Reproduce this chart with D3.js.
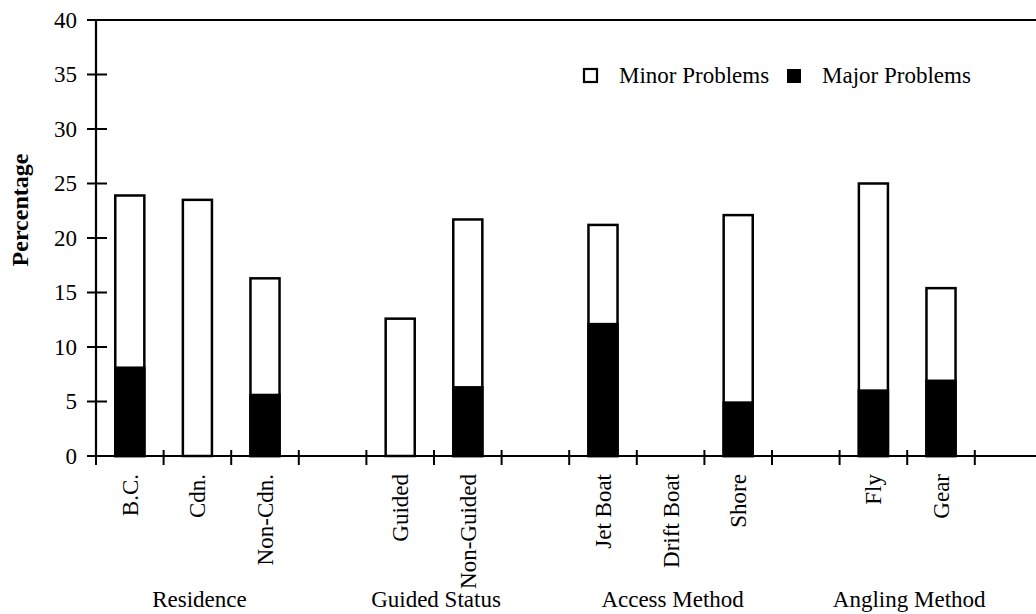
<!DOCTYPE html>
<html>
<head>
<meta charset="utf-8">
<script src="https://cdn.jsdelivr.net/npm/d3@7"></script>
<style>
  html, body { margin: 0; padding: 0; background: #fff; }
  svg { display: block; }
  text { font-family: "Liberation Serif", "Times New Roman", serif; fill: #000; }
</style>
</head>
<body>
<div id="chart"></div>
<script>
// ---- data ----
const groups = ["Residence", "Guided Status", "Access Method", "Angling Method"];
const categories = ["B.C.", "Cdn.", "Non-Cdn.", "Guided", "Non-Guided", "Jet Boat", "Drift Boat", "Shore", "Fly", "Gear"];
const categoryGroup = [0, 0, 0, 1, 1, 2, 2, 2, 3, 3];
const majorValues = [8.1, 0, 5.6, 0, 6.3, 12.1, 0, 4.9, 6.0, 6.9];
const minorValues = [15.8, 23.5, 10.7, 12.6, 15.4, 9.1, 0, 17.2, 19.0, 8.5];
const yTicks = [0, 5, 10, 15, 20, 25, 30, 35, 40];
const seriesNames = ["Minor Problems", "Major Problems"];

// ---- layout ----
const W = 1036, H = 614;
const svg = d3.select("#chart").append("svg").attr("width", W).attr("height", H);

// build slots: categories with one blank slot after each group
const slots = [];
groups.forEach((g, gi) => {
  categories.forEach((c, ci) => { if (categoryGroup[ci] === gi) slots.push({ key: c, cat: ci, group: gi }); });
  slots.push({ key: "gap" + gi, cat: -1, group: gi });
});

const x0 = 96, slotW = 67.6;
const x = d3.scaleBand().domain(slots.map(s => s.key)).range([x0, x0 + slotW * slots.length]).padding(0);
const y = d3.scaleLinear().domain([0, 40]).range([456, 20]);
const barW = x.bandwidth() * 0.43;

// top border line
svg.append("line").attr("x1", 87).attr("x2", W).attr("y1", y(40)).attr("y2", y(40))
  .attr("stroke", "#000").attr("stroke-width", 2);

// y axis
svg.append("line").attr("x1", x0).attr("x2", x0).attr("y1", y(0)).attr("y2", y(40))
  .attr("stroke", "#000").attr("stroke-width", 2.2);
const yt = svg.append("g");
yTicks.forEach(t => {
  yt.append("line").attr("x1", x0 - 9).attr("x2", x0 + 11).attr("y1", y(t)).attr("y2", y(t))
    .attr("stroke", "#000").attr("stroke-width", 2);
  yt.append("text").attr("x", 77).attr("y", y(t)).attr("dy", "0.33em")
    .attr("text-anchor", "end").attr("font-size", 23).text(t);
});

// y title
svg.append("text").attr("transform", `translate(28,210) rotate(-90)`)
  .attr("text-anchor", "middle").attr("font-size", 24).attr("font-weight", "bold").text("Percentage");

// bars
const bars = svg.append("g");
slots.filter(s => s.cat >= 0).forEach(s => {
  const i = s.cat;
  const total = majorValues[i] + minorValues[i];
  if (total <= 0) return;
  const cx = x(s.key) + x.bandwidth() / 2;
  bars.append("rect").attr("x", cx - barW / 2).attr("width", barW)
    .attr("y", y(total)).attr("height", y(0) - y(total))
    .attr("fill", "#fff").attr("stroke", "#000").attr("stroke-width", 2.5);
  if (majorValues[i] > 0) {
    bars.append("rect").attr("x", cx - barW / 2).attr("width", barW)
      .attr("y", y(majorValues[i])).attr("height", y(0) - y(majorValues[i]))
      .attr("fill", "#000").attr("stroke", "#000").attr("stroke-width", 2.5);
  }
});

// x axis line
svg.append("line").attr("x1", 87).attr("x2", W).attr("y1", y(0)).attr("y2", y(0))
  .attr("stroke", "#000").attr("stroke-width", 2.2);
// x ticks at slot boundaries
const bounds = slots.map(s => x(s.key)).concat([x.range()[1]]);
bounds.forEach(b => {
  svg.append("line").attr("x1", b).attr("x2", b).attr("y1", y(0) - 6).attr("y2", y(0) + 9)
    .attr("stroke", "#000").attr("stroke-width", 2);
});

// category labels
slots.filter(s => s.cat >= 0).forEach(s => {
  const cx = x(s.key) + x.bandwidth() / 2;
  svg.append("text").attr("transform", `translate(${cx},474) rotate(-90)`)
    .attr("dy", "0.35em").attr("text-anchor", "end").attr("font-size", 23)
    .text(categories[s.cat]);
});

// group labels
groups.forEach((g, gi) => {
  const ss = slots.filter(s => s.group === gi && s.cat >= 0);
  const left = x(ss[0].key), right = x(ss[ss.length - 1].key) + x.bandwidth();
  svg.append("text").attr("x", (left + right) / 2 + 2).attr("y", 607)
    .attr("text-anchor", "middle").attr("font-size", 23).text(g);
});

// legend
const lg = svg.append("g");
lg.append("rect").attr("x", 584).attr("y", 69).attr("width", 13).attr("height", 13)
  .attr("fill", "#fff").attr("stroke", "#000").attr("stroke-width", 2.2);
lg.append("text").attr("x", 619).attr("y", 83).attr("font-size", 23).text(seriesNames[0]);
lg.append("rect").attr("x", 787).attr("y", 69).attr("width", 14).attr("height", 14)
  .attr("fill", "#000");
lg.append("text").attr("x", 822).attr("y", 83).attr("font-size", 23).text(seriesNames[1]);
</script>
</body>
</html>
